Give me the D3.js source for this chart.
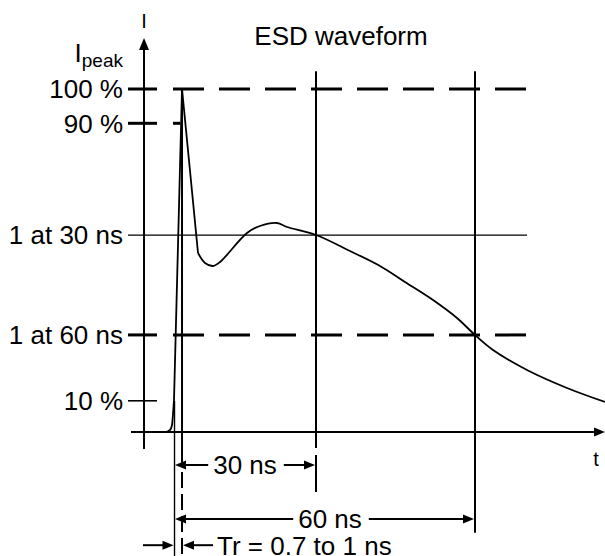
<!DOCTYPE html>
<html>
<head>
<meta charset="utf-8">
<script src="https://cdn.jsdelivr.net/npm/d3@7"></script>
<style>
  html, body { margin: 0; padding: 0; background: #fff; }
  svg { display: block; }
  text { font-family: 'Liberation Sans', Arial, Helvetica, sans-serif; fill: #000; }
</style>
</head>
<body>
<svg id="chart" width="605" height="556"></svg>
<script>
// ---------- DATA (time in ns, current in % of Ipeak; diagram is not to scale) ----------
const levelLabels = ["100 %", "90 %", "1 at 30 ns", "1 at 60 ns", "10 %"];
const levelValues = [100, 90, 57.4, 28.3, 9.1];
const levelStyle  = ["dashed", "dashedShort", "solid", "dashed", "tick"];

// waveform: foot (smooth), edge (straight), tail (smooth)
const footT = [-2.45, 1.70, 2.45, 2.83, 3.02, 3.21];
const footI = [0, 0, 0.58, 2.04, 5.25, 9.33];
const edgeT = [3.21, 4.72, 7.74];
const edgeI = [9.33, 100, 52.19];
const tailT = [7.74, 9.06, 10.57, 11.89, 16.98, 19.43, 22.64, 24.53, 30, 36.42, 42.08, 46.79, 52.08, 56.60, 60, 63.40, 69.81, 77.36, 84.53];
const tailI = [52.19, 49.27, 48.40, 49.56, 58.02, 60.06, 60.93, 59.77, 57.43, 52.77, 48.40, 43.73, 38.48, 33.24, 28.28, 23.91, 18.08, 12.83, 8.75];

const peakT = 4.72;      // time of peak
const rise10T = 3.21;    // 10 % crossing
const rise90T = 4.43;    // 90 % crossing
const markTimes = [30, 60];
const spanLabels = ["30 ns", "60 ns"];
const trLabel = "Tr = 0.7 to 1 ns";

// ---------- SCALES ----------
const x = d3.scaleLinear().domain([0, 60]).range([157, 475]);
const y = d3.scaleLinear().domain([0, 100]).range([432, 89]);

const svg = d3.select("#chart");
const g = svg.append("g");

// layout extents in data units
const axisT = -2.45, tickT0 = -5.47, tickT1 = 0;
const xAxisT0 = -4.91, xAxisT1 = 84.53;
const guideT0 = 3.02, guideT1 = 69.81;
const yAxisTop = 114.9, yAxisBottom = -4.96;
const vTop = 105.2;
const arrowY = [-9.62, -25.4];
const trY = -33.0;
const bottomI = -36.2;

function line(x1, y1, x2, y2, w, dash) {
  const l = g.append("line")
    .attr("x1", x1).attr("y1", y1).attr("x2", x2).attr("y2", y2)
    .attr("stroke", "#000").attr("stroke-width", w);
  if (dash) l.attr("stroke-dasharray", dash);
  return l;
}
function head(tipX, tipY, dir) { // dir: 'l','r','u'
  const L = 11, H = 4.5;
  let pts;
  if (dir === "r") pts = [[tipX, tipY], [tipX - L, tipY - H], [tipX - L, tipY + H]];
  else if (dir === "l") pts = [[tipX, tipY], [tipX + L, tipY - H], [tipX + L, tipY + H]];
  else pts = [[tipX, tipY], [tipX - 5, tipY + 12], [tipX + 5, tipY + 12]];
  g.append("path").attr("d", "M" + pts.map(p => p.join(",")).join("L") + "Z").attr("fill", "#000");
}

// ---------- LEVEL LINES ----------
levelValues.forEach((v, i) => {
  const yy = y(v);
  const st = levelStyle[i];
  if (st === "solid") {
    line(x(tickT0), yy, x(guideT1), yy, 1.4);
  } else if (st === "tick") {
    line(x(tickT0), yy, x(tickT1), yy, 1.6);
  } else {
    line(x(tickT0), yy, x(tickT1), yy, 3);
    const end = st === "dashed" ? x(guideT1) : x(rise90T);
    line(x(guideT0), yy, end, yy, 3, "31,15");
  }
  g.append("text")
    .attr("x", x(tickT0) - 5).attr("y", yy)
    .attr("dy", "0.36em")
    .attr("text-anchor", "end")
    .attr("font-size", 26)
    .text(levelLabels[i]);
});

// ---------- AXES ----------
line(x(axisT), y(yAxisBottom), x(axisT), y(yAxisTop) + 10, 2);
head(x(axisT), y(yAxisTop), "u");
line(x(xAxisT0), y(0), x(xAxisT1) - 10, y(0), 2);
head(x(xAxisT1), y(0), "r");

// ---------- VERTICAL MARKERS ----------
line(x(30), y(vTop), x(30), y(-4.66), 2);
line(x(30), y(-6.7), x(30), y(-17.5), 2);
line(x(60), y(vTop), x(60), y(-29.4), 2);
line(x(peakT), y(100), x(peakT), y(-5.25), 2);
line(x(peakT), y(-5.25), x(peakT), y(bottomI), 2, "16,6");
line(x(rise10T) + 0.5, y(9.1), x(rise10T) + 0.5, y(bottomI), 1.4);

// ---------- WAVEFORM ----------
const wf = d3.line().x(d => x(d[0])).y(d => y(d[1]));
g.append("path").attr("d", wf.curve(d3.curveMonotoneX)(footT.map((t, i) => [t, footI[i]])))
  .attr("fill", "none").attr("stroke", "#000").attr("stroke-width", 1.8);
g.append("path").attr("d", wf.curve(d3.curveLinear)(edgeT.map((t, i) => [t, edgeI[i]])))
  .attr("fill", "none").attr("stroke", "#000").attr("stroke-width", 1.8).attr("stroke-linejoin", "round");
g.append("path").attr("d", wf.curve(d3.curveCatmullRom.alpha(0.5))(tailT.map((t, i) => [t, tailI[i]])))
  .attr("fill", "none").attr("stroke", "#000").attr("stroke-width", 1.8);

// ---------- SPAN ARROWS ----------
const spanStart = x(rise10T) + 1;
markTimes.forEach((mt, i) => {
  const yy = y(arrowY[i]);
  const endX = x(mt) - 1;
  const mid = i === 0 ? (spanStart + endX) / 2 : 330;
  const txt = g.append("text").attr("x", mid).attr("y", yy).attr("dy", "0.36em")
    .attr("text-anchor", "middle").attr("font-size", 26).text(spanLabels[i]);
  const w = txt.node().getComputedTextLength();
  line(spanStart + 10, yy, mid - w / 2 - 5, yy, 2);
  line(mid + w / 2 + 7, yy, endX - 10, yy, 2);
  head(spanStart, yy, "l");
  head(endX, yy, "r");
});

// Tr arrows
const ty = y(trY);
line(x(-2.64), ty, x(rise10T) - 10, ty, 2);
head(x(rise10T) - 0.5, ty, "r");
line(x(peakT) + 10, ty, x(10.57), ty, 2);
head(x(peakT) + 1, ty, "l");
g.append("text").attr("x", x(10.57) + 4).attr("y", ty).attr("dy", "0.36em")
  .attr("font-size", 26).text(trLabel);

// ---------- TITLES ----------
g.append("text").attr("x", 341).attr("y", 45).attr("text-anchor", "middle")
  .attr("font-size", 26).text("ESD waveform");
g.append("text").attr("x", x(axisT)).attr("y", 28).attr("text-anchor", "middle")
  .attr("font-size", 20).text("I");
g.append("text").attr("x", 596).attr("y", 466).attr("text-anchor", "middle")
  .attr("font-size", 20).text("t");
const ip = g.append("text").attr("x", 123).attr("y", 62).attr("text-anchor", "end").attr("font-size", 26);
ip.append("tspan").text("I");
ip.append("tspan").attr("font-size", 19).attr("dy", 5).text("peak");
</script>
</body>
</html>
